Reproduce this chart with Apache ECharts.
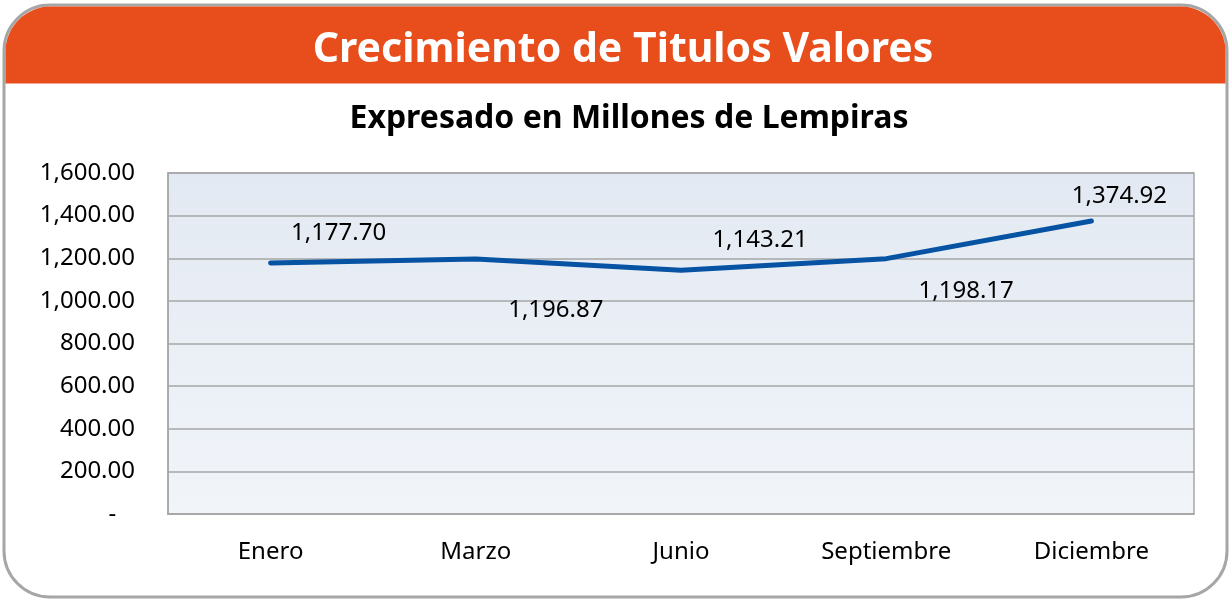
<!DOCTYPE html>
<html><head><meta charset="utf-8">
<script src="https://cdn.jsdelivr.net/npm/echarts@6/dist/echarts.min.js"></script>
<style>html,body{margin:0;padding:0;background:#fff}#c{width:1231px;height:601px}</style>
</head><body><div id="c"></div>
<script>
const categories = ['Enero', 'Marzo', 'Junio', 'Septiembre', 'Diciembre'];
const values = [1177.70, 1196.87, 1143.21, 1198.17, 1374.92];
const yTicks = [0, 200, 400, 600, 800, 1000, 1200, 1400, 1600];
const titleText = 'Crecimiento de Titulos Valores';
const subtitleText = 'Expresado en Millones de Lempiras';
const labelOffsets = [[68, -30], [80, 51], [79, -30], [80, 33], [28, -25]];

const FONT = 'Noto Sans';
function fmt(v) {
  if (v === 0) return '-   ';
  return v.toLocaleString('en-US', {minimumFractionDigits: 2, maximumFractionDigits: 2});
}
const chart = echarts.init(document.getElementById('c'));
chart.setOption({
  animation: false,
  graphic: [
    {type: 'rect', shape: {x: 4, y: 5, width: 1223, height: 592, r: 46}, style: {fill: '#fff', stroke: '#A6A6A6', lineWidth: 3}, z: -10},
    {type: 'rect', shape: {x: 5.5, y: 6.5, width: 1220, height: 77, r: [45, 45, 0, 0]}, style: {fill: '#E84E1C'}, z: -9}
  ],
  title: [
    {text: titleText, left: 618, top: 45, textAlign: 'center', textVerticalAlign: 'middle',
     textStyle: {color: '#fff', fontFamily: FONT, fontWeight: 'bold', fontSize: 41}},
    {text: subtitleText, left: 624, top: 114, textAlign: 'center', textVerticalAlign: 'middle',
     textStyle: {color: '#000', fontFamily: FONT, fontWeight: 'bold', fontSize: 32}}
  ],
  grid: {left: 168, right: 37, top: 173, bottom: 87, show: true,
    backgroundColor: {type: 'linear', x: 0, y: 0, x2: 0, y2: 1, colorStops: [{offset: 0, color: '#E3E9F2'}, {offset: 1, color: '#F1F5FA'}]},
    borderColor: '#A6A6A6', borderWidth: 1.5},
  xAxis: {type: 'category', data: categories, boundaryGap: true,
    axisLine: {lineStyle: {color: '#A6A6A6', width: 1.5}}, axisTick: {show: false},
    axisLabel: {color: '#000', fontFamily: FONT, fontSize: 24, margin: 26}},
  yAxis: {type: 'value', min: yTicks[0], max: yTicks[yTicks.length - 1], interval: 200,
    axisLine: {show: true, lineStyle: {color: '#A6A6A6', width: 1.5}}, axisTick: {show: false},
    splitLine: {lineStyle: {color: '#A6A6A6', width: 1.5}},
    axisLabel: {color: '#000', fontFamily: FONT, fontSize: 24, margin: 33, formatter: fmt}},
  series: [{
    type: 'line', data: values.map((v, i) => ({value: v, label: {offset: labelOffsets[i]}})),
    symbol: 'circle', symbolSize: 0.1, showSymbol: true, itemStyle: {color: 'rgba(0,0,0,0)'},
    lineStyle: {color: '#0652A3', width: 5, cap: 'round', join: 'round'},
    label: {show: true, position: 'inside', color: '#000', fontFamily: FONT, fontSize: 24,
      align: 'center', verticalAlign: 'middle', formatter: p => fmt(p.value)}
  }]
});
</script></body></html>
